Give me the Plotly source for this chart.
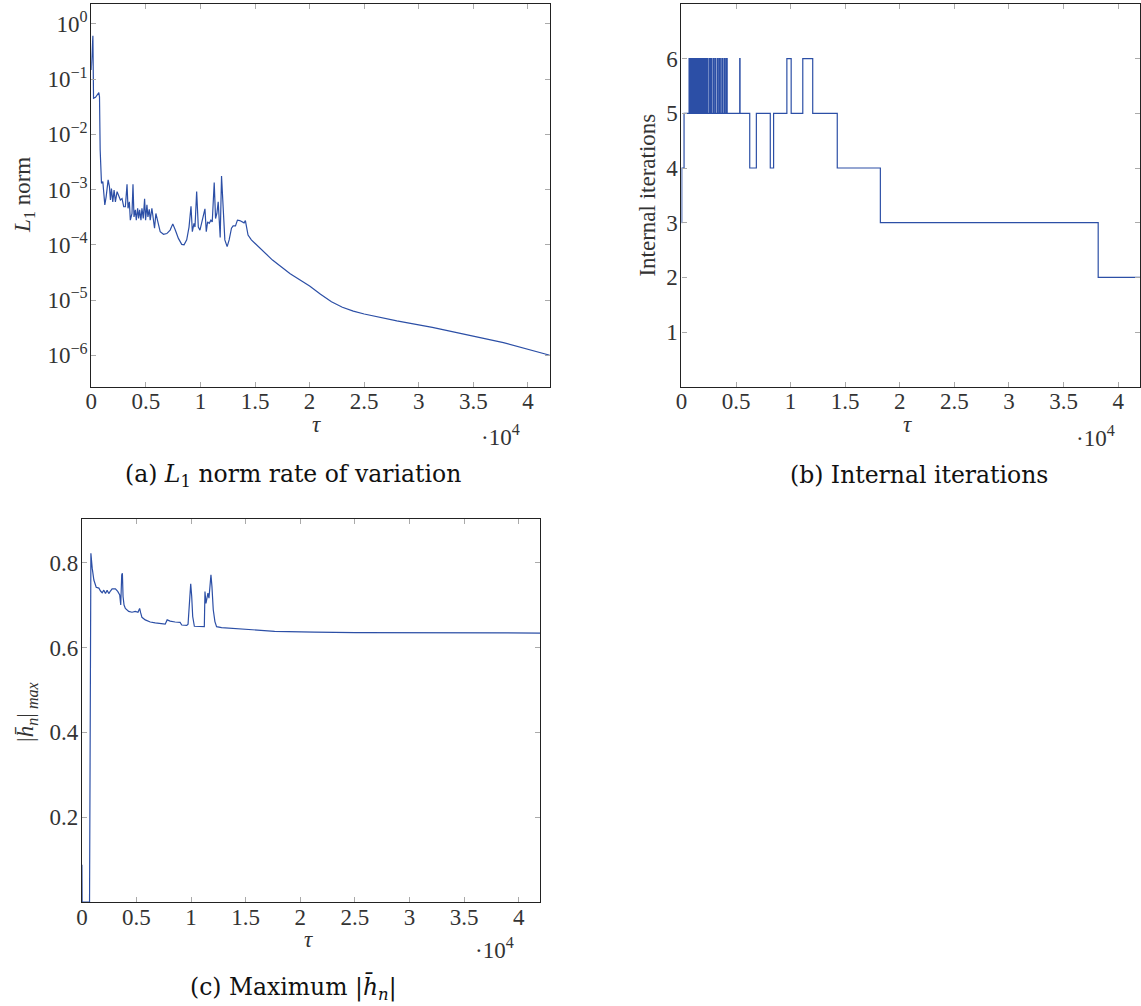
import plotly.graph_objects as go

# ---------------- data ----------------
# (a) L1 norm rate of variation
tau_a = [0, 150, 210, 390, 695, 756, 817, 877, 938, 1060,
         1242, 1364, 1546, 1667, 1758, 1849, 1971, 2092, 2214, 2366,
         2517, 2669, 2821, 2973, 3124, 3277, 3368, 3490, 3580, 3732,
         3823, 3915, 4036, 4127, 4248, 4339, 4430, 4552, 4643, 4765,
         4886, 4977, 5099, 5190, 5312, 5402, 5554, 5676, 5797, 5919,
         6101, 6313, 6617, 6921, 7224, 7467, 7680, 7983, 8287, 8500,
         8743, 8955, 9137, 9259, 9410, 9501, 9654, 9805, 9957, 10109,
         10261, 10413, 10534, 10656, 10807, 10959, 11081, 11263, 11385, 11506,
         11627, 11719, 11810, 11932, 12023, 12114, 12235, 12447, 12630, 12843,
         12994, 13210, 13389, 13601, 13813, 13996, 14117, 14239, 14360, 14664,
         16600, 18220, 20000, 21000, 22000, 23000, 24000, 25000, 27990, 31240,
         34490, 37750, 42000]
l1_a = [0.147, 0.61, 0.045, 0.047, 0.057, 0.048, 5.2e-3, 1.7e-3, 1.3e-3, 1.4e-3,
        5.3e-4, 7.4e-4, 1.5e-3, 1.13e-3, 6.5e-4, 1.05e-3, 6.0e-4, 9.8e-4, 6.0e-4, 9.2e-4,
        7.4e-4, 6.5e-4, 6.9e-4, 4.9e-4, 4.9e-4, 1.25e-3, 4.6e-4, 6.0e-4, 2.8e-4, 3.7e-4,
        1.25e-3, 3.2e-4, 4.3e-4, 2.8e-4, 4.6e-4, 3.0e-4, 4.3e-4, 2.8e-4, 4.6e-4, 3.0e-4,
        6.8e-4, 2.8e-4, 5.3e-4, 3.2e-4, 4.4e-4, 2.8e-4, 4.6e-4, 2.8e-4, 2.0e-4, 3.7e-4,
        2.45e-4, 1.73e-4, 1.55e-4, 1.6e-4, 1.85e-4, 2.4e-4, 1.9e-4, 1.31e-4, 1.02e-4, 1.0e-4,
        1.23e-4, 2.1e-4, 5.0e-4, 1.73e-4, 2.45e-4, 2.1e-4, 9.2e-4, 2.1e-4, 1.85e-4, 2.45e-4,
        3.2e-4, 4.5e-4, 1.73e-4, 2.6e-4, 2.45e-4, 2.8e-4, 2.6e-4, 1.35e-3, 3.0e-4, 3.7e-4,
        6.0e-4, 3.2e-4, 1.36e-4, 1.76e-3, 6.5e-4, 3.7e-4, 1.23e-4, 9.3e-5, 1.23e-4, 2.0e-4,
        2.2e-4, 2.2e-4, 2.8e-4, 2.75e-4, 2.6e-4, 2.5e-4, 2.75e-4, 2.0e-4, 1.5e-4, 1.23e-4,
        5.3e-5, 3.0e-5, 1.8e-5, 1.27e-5, 9.3e-6, 7.4e-6, 6.3e-6, 5.6e-6, 4.2e-6, 3.2e-6,
        2.3e-6, 1.69e-6, 1.0e-6]

# (b) Internal iterations (step changes)
tau_b = [0, 30, 240,
         700, 780, 830, 900, 940, 1000, 1040, 1120, 1160, 1210,
         1250, 1330, 1370, 1420, 1460, 1540, 1590, 1640, 1690, 1770,
         1810, 1860, 1910, 2000, 2060, 2110, 2170, 2260, 2330, 2380,
         2520, 2600, 2700, 2760, 2900, 2960, 3080, 3150, 3300, 3360,
         3480, 3560, 3700, 3760, 3900, 3960, 4080, 4190,
         5340, 5370, 6256, 6863, 8138, 8442, 9657, 10051, 11114, 12025,
         14272, 18220, 38170, 42000]
iter_b = [3, 4, 5,
          6, 5, 6, 5, 6, 5, 6, 5, 6, 5,
          6, 5, 6, 5, 6, 5, 6, 5, 6, 5,
          6, 5, 6, 5, 6, 5, 6, 5, 6, 5,
          6, 5, 6, 5, 6, 5, 6, 5, 6, 5,
          6, 5, 6, 5, 6, 5, 6, 5,
          6, 5, 4, 5, 4, 5, 6, 5, 6, 5,
          4, 3, 2, 2]

# (c) Maximum |h_n|
tau_c = [0, 20, 700, 790, 823, 944, 1096, 1309, 1552, 1704,
         1856, 2008, 2160, 2310, 2462, 2614, 2766, 3070, 3282, 3465,
         3556, 3647, 3708, 3769, 3860, 3981, 4285, 4589, 4893, 5136,
         5288, 5379, 5500, 5804, 6260, 6716, 7171, 7627, 7809, 8083,
         8538, 8994, 9146, 9601, 9723, 9814, 9966, 10057, 10148, 10300,
         10664, 11120, 11212, 11272, 11363, 11454, 11545, 11636, 11728, 11819,
         11910, 12031, 12183, 12335, 12791, 14006, 15828, 17651, 21296, 25000,
         42000]
hmax_c = [0.088, 0.0, 0.0, 0.80, 0.822, 0.787, 0.759, 0.742, 0.74, 0.733,
          0.729, 0.735, 0.727, 0.735, 0.727, 0.733, 0.738, 0.738, 0.732, 0.724,
          0.700, 0.771, 0.775, 0.72, 0.70, 0.692, 0.685, 0.683, 0.685, 0.683,
          0.692, 0.682, 0.671, 0.665, 0.660, 0.658, 0.656, 0.655, 0.665, 0.662,
          0.66, 0.659, 0.653, 0.652, 0.655, 0.704, 0.75, 0.72, 0.673, 0.65,
          0.65, 0.649, 0.649, 0.732, 0.704, 0.716, 0.728, 0.716, 0.748, 0.771,
          0.744, 0.689, 0.661, 0.649, 0.647, 0.645, 0.641, 0.638, 0.636, 0.635,
          0.634]

x_tickvals = [0, 5000, 10000, 15000, 20000, 25000, 30000, 35000, 40000]
x_ticktext = ["0", "0.5", "1", "1.5", "2", "2.5", "3", "3.5", "4"]
a_tickvals = [1e-6, 1e-5, 1e-4, 1e-3, 1e-2, 1e-1, 1]
a_ticktext = ["10<sup>−6</sup>", "10<sup>−5</sup>", "10<sup>−4</sup>", "10<sup>−3</sup>",
              "10<sup>−2</sup>", "10<sup>−1</sup>", "10<sup>0</sup>"]
b_tickvals = [1, 2, 3, 4, 5, 6]
c_tickvals = [0.2, 0.4, 0.6, 0.8]
c_ticktext = ["0.2", "0.4", "0.6", "0.8"]

# ---------------- layout helpers ----------------
W, H = 1141, 1006
LINE = "#2c4fa6"
SERIF = "Liberation Serif"
TICKFONT = dict(family=SERIF, size=23, color="#333333")


def px(x):
    return x / W


def py(y):
    return 1 - y / H


fig = go.Figure()
fig.add_trace(go.Scatter(x=tau_a, y=l1_a, mode="lines", line=dict(color=LINE, width=1.2),
                         xaxis="x", yaxis="y", showlegend=False))
fig.add_trace(go.Scatter(x=tau_b, y=iter_b, mode="lines", line=dict(color=LINE, width=1.2, shape="hv"),
                         xaxis="x2", yaxis="y2", showlegend=False))
fig.add_trace(go.Scatter(x=tau_c, y=hmax_c, mode="lines", line=dict(color=LINE, width=1.2),
                         xaxis="x3", yaxis="y3", showlegend=False))

common_axis = dict(showline=True, linecolor="#222222", linewidth=1.2, mirror="ticks",
                   ticks="inside", ticklen=5, tickcolor="#aaaaaa", tickwidth=1,
                   showgrid=False, zeroline=False, tickfont=TICKFONT)

xa = dict(common_axis, range=[0, 42000], tickvals=x_tickvals, ticktext=x_ticktext,
          ticklabelstandoff=-6)

fig.update_layout(
    width=W, height=H, autosize=False,
    margin=dict(l=0, r=0, t=0, b=0),
    paper_bgcolor="white", plot_bgcolor="white",
    xaxis=dict(xa, domain=[px(85.7), px(546.7)], anchor="y"),
    yaxis=dict(common_axis, type="log", range=[-6.569, 0.362], tickvals=a_tickvals,
               ticktext=a_ticktext, domain=[py(386.7), py(4)], anchor="x",
               ticklabelstandoff=-2),
    xaxis2=dict(xa, domain=[px(679), px(1140)], anchor="y2"),
    yaxis2=dict(common_axis, range=[0, 7], tickvals=b_tickvals,
                domain=[py(386.7), py(4)], anchor="x2", ticklabelstandoff=-2),
    xaxis3=dict(xa, domain=[px(76.3), px(537.3)], anchor="y3"),
    yaxis3=dict(common_axis, range=[0, 0.904], tickvals=c_tickvals, ticktext=c_ticktext,
                domain=[py(902), py(518.5)], anchor="x3", ticklabelstandoff=-2),
)

AX_FONT = dict(family=SERIF, size=23, color="#333333")
CAP_FONT = dict(family="DejaVu Serif", size=23.5, color="#111111")


def ann(text, x, y, font, angle=0):
    fig.add_annotation(text=text, x=px(x), y=py(y), xref="paper", yref="paper",
                       showarrow=False, xanchor="center", yanchor="middle",
                       textangle=angle, font=font)


# axis titles
ann("<i>L</i><sub>1</sub> norm", 18, 195, AX_FONT, -90)
ann("Internal iterations", 645, 195, AX_FONT, -90)
ann("|<i>h\u0304</i><sub><i>n</i></sub>|<sub> <i>max</i></sub>", 21, 712, AX_FONT, -90)
ann("<i>τ</i>", 312, 424, AX_FONT)
ann("<i>τ</i>", 906, 424, AX_FONT)
ann("<i>τ</i>", 304, 939, AX_FONT)
ann("·10<sup>4</sup>", 497, 435, TICKFONT)
ann("·10<sup>4</sup>", 1095, 436, TICKFONT)
ann("·10<sup>4</sup>", 491, 948, TICKFONT)

# captions
ann("(a) <i>L</i><sub>1</sub> norm rate of variation", 289, 475, CAP_FONT)
ann("(b) Internal iterations", 918, 475, CAP_FONT)
ann("(c) Maximum |<i>h\u0304</i><sub><i>n</i></sub>|", 289, 988, CAP_FONT)

fig.write_html("out.html")
